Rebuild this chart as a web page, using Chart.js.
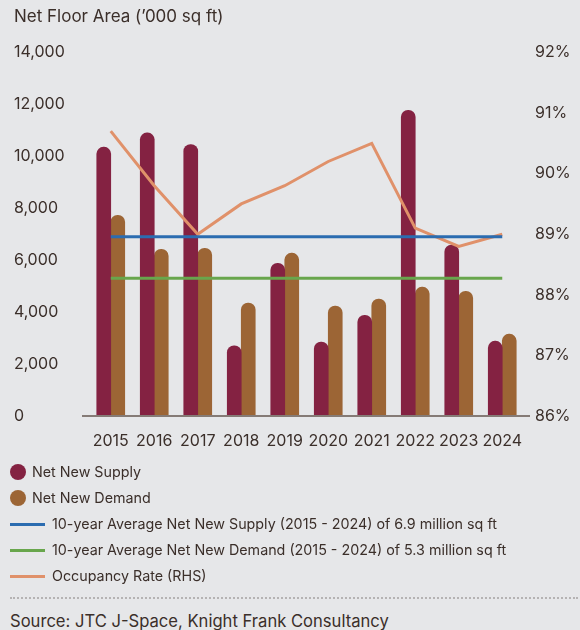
<!DOCTYPE html>
<html>
<head>
<meta charset="utf-8">
<script src="https://cdn.jsdelivr.net/npm/chart.js@4"></script>
<style>
  body { margin: 0; background: #e6e7e9; font-family: Inter, sans-serif; color: #3b2f2a; }
  #wrap { position: relative; width: 580px; height: 630px; }
  #c { position: absolute; left: 0; top: 0; }
  #legend { position: absolute; left: 0; top: 459px; width: 580px; }
  .row { position: relative; height: 26px; font-size: 14.3px; line-height: 26px; }
  .dot { position: absolute; left: 10px; top: 5px; width: 16px; height: 16px; border-radius: 50%; }
  .ln { position: absolute; left: 10px; top: 11.5px; width: 35px; height: 3px; }
  .row span { position: absolute; white-space: nowrap; }
  #sep { position: absolute; left: 10px; top: 597px; width: 568px; border-top: 2px dotted #b5b3b3; }
  #src { position: absolute; left: 10px; top: 609px; font-size: 16.6px; line-height: 24px; }
</style>
</head>
<body>
<div id="wrap">
  <canvas id="c" width="580" height="460"></canvas>
  <div id="legend"></div>
  <div id="sep"></div>
  <div id="src">Source: JTC J-Space, Knight Frank Consultancy</div>
</div>
<script>
// dados
const anos = ['2015', '2016', '2017', '2018', '2019', '2020', '2021', '2022', '2023', '2024'];
const oferta = [10350, 10900, 10450, 2700, 5880, 2850, 3880, 11770, 6580, 2880];
const demanda = [7730, 6420, 6460, 4350, 6270, 4230, 4500, 4960, 4800, 3150];
const mediaOferta = [6900, 6900, 6900, 6900, 6900, 6900, 6900, 6900, 6900, 6900];
const mediaDemanda = [5300, 5300, 5300, 5300, 5300, 5300, 5300, 5300, 5300, 5300];
const ocupacao = [90.7, 89.8, 89.0, 89.5, 89.8, 90.2, 90.5, 89.1, 88.8, 89.0];

const corTexto = '#3b2f2a';
const fonte = { family: 'Inter, sans-serif', size: 16 };

// linha de base um pouco mais larga que a area
const baseLine = {
  id: 'baseLine',
  afterDatasetsDraw(chart) {
    const y = chart.scales.y.getPixelForValue(0);
    const ctx = chart.ctx;
    ctx.save();
    ctx.strokeStyle = '#857b76';
    ctx.lineWidth = 2;
    ctx.beginPath();
    ctx.moveTo(82, y);
    ctx.lineTo(530, y);
    ctx.stroke();
    ctx.restore();
  }
};

const grafico = new Chart(document.getElementById('c'), {
  data: {
    labels: anos,
    datasets: [
      { type: 'line', label: '10-year Average Net New Supply (2015 - 2024) of 6.9 million sq ft', data: mediaOferta,
        borderColor: '#2b6cb0', borderWidth: 3, pointRadius: 0, yAxisID: 'y', order: 0 },
      { type: 'line', label: '10-year Average Net New Demand (2015 - 2024) of 5.3 million sq ft', data: mediaDemanda,
        borderColor: '#68a64c', borderWidth: 3, pointRadius: 0, yAxisID: 'y', order: 0 },
      { type: 'line', label: 'Occupancy Rate (RHS)', data: ocupacao,
        borderColor: '#e0916a', borderWidth: 3, pointRadius: 0, yAxisID: 'y2', order: 0 },
      { type: 'bar', label: 'Net New Supply', data: oferta, backgroundColor: '#842242',
        barThickness: 14, borderRadius: { topLeft: 7, topRight: 7 }, borderSkipped: 'bottom', yAxisID: 'y', order: 1 },
      { type: 'bar', label: 'Net New Demand', data: demanda, backgroundColor: '#9c6535',
        barThickness: 14, borderRadius: { topLeft: 7, topRight: 7 }, borderSkipped: 'bottom', yAxisID: 'y', order: 1 }
    ]
  },
  options: {
    responsive: false,
    animation: false,
    layout: { padding: { left: 14, right: 0, top: 0, bottom: 9 } },
    plugins: {
      legend: { display: false },
      tooltip: { enabled: false },
      title: {
        display: true, text: 'Net Floor Area (\u2019000 sq ft)', align: 'start', color: corTexto,
        font: { family: 'Inter, sans-serif', size: 17, weight: 'normal' }, padding: { top: 7, bottom: 25 }
      }
    },
    scales: {
      x: {
        grid: { display: false, drawTicks: false },
        border: { display: false },
        ticks: { color: corTexto, font: fonte, padding: 16, maxRotation: 0 },
        afterFit: s => { s.height = 35; }
      },
      y: {
        position: 'left', min: 0, max: 14000,
        grid: { display: false, drawTicks: false },
        border: { display: false },
        ticks: { stepSize: 2000, color: corTexto, font: fonte, crossAlign: 'far', padding: 0,
          callback: v => v.toLocaleString('en-US') },
        afterFit: s => { s.width = 75; }
      },
      y2: {
        position: 'right', min: 86, max: 92,
        grid: { display: false, drawTicks: false },
        border: { display: false },
        ticks: { stepSize: 1, color: corTexto, font: fonte, padding: 11, callback: v => v + '%' },
        afterFit: s => { s.width = 56; }
      }
    }
  },
  plugins: [baseLine]
});

// legenda
const legenda = document.getElementById('legend');
['Net New Supply', 'Net New Demand'].forEach((nome, i) => {
  const ds = grafico.data.datasets[3 + i];
  legenda.insertAdjacentHTML('beforeend',
    `<div class="row"><div class="dot" style="background:${ds.backgroundColor}"></div><span style="left:32px">${nome}</span></div>`);
});
[0, 1, 2].forEach(i => {
  const ds = grafico.data.datasets[i];
  legenda.insertAdjacentHTML('beforeend',
    `<div class="row"><div class="ln" style="background:${ds.borderColor}"></div><span style="left:52px">${ds.label}</span></div>`);
});
</script>
</body>
</html>
